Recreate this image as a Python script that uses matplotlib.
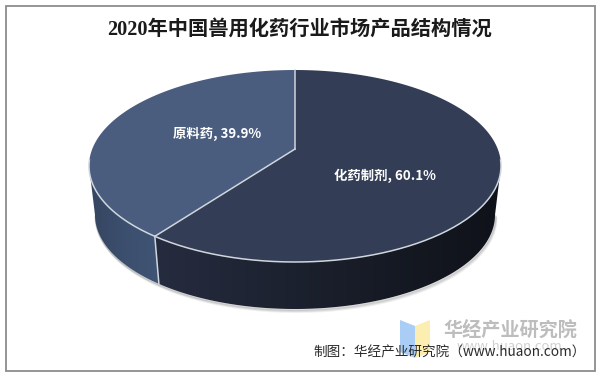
import matplotlib
matplotlib.use("Agg")
import matplotlib.pyplot as plt
from matplotlib.patches import Rectangle, Polygon
from matplotlib.colors import LinearSegmentedColormap
import numpy as np

plt.rcParams['font.family'] = ['Noto Sans CJK SC', 'DejaVu Sans']

# Data
labels = ["原料药", "化药制剂"]
shares = [39.9, 60.1]
title = "2020年中国兽用化药行业市场产品结构情况"
source = "制图：华经产业研究院（www.huaon.com）"

fig = plt.figure(figsize=(6, 3.74), dpi=100)
ax = fig.add_axes([0, 0, 1, 1])
ax.set_xlim(0, 600)
ax.set_ylim(374, 0)
ax.axis("off")

# Outer frame
ax.add_patch(Rectangle((5.5, 5.5), 589, 365, fill=False, ec="#8c8c8c", lw=1.3))

# Ellipses of the pie, in picture pixels
cx, cy, rx, ry = 295, 166, 206, 96
bx, by, brx, bry = 295, 215, 200, 94
tilt = -0.177  # moves the pie centre up the ellipse, as the 3D view does


def ellipse_pos(a):
    # a is the clockwise angle from the top of the pie; returns unit ellipse coords
    u, v = np.sin(a), -np.cos(a)
    d = 1 + tilt * v
    return u * np.sqrt(1 - tilt ** 2) / d, (v + tilt) / d


a_split = 2 * np.pi * (1 - shares[0] / 100)
u_b, v_b = ellipse_pos(a_split)
phi_b = np.arctan2(v_b, u_b)
apex = (cx, cy + ry * tilt)


def top_pt(phi):
    return cx + rx * np.cos(phi), cy + ry * np.sin(phi)


def bot_pt(phi):
    return bx + brx * np.cos(phi), by + bry * np.sin(phi)


def wall(phi0, phi1):
    ph = np.linspace(phi0, phi1, 120)
    tx, ty = top_pt(ph)
    gx, gy = bot_pt(ph[::-1])
    return np.r_[tx, gx], np.r_[ty, gy]


# Soft shadow under the pie
ph = np.linspace(0, np.pi, 150)
for off, al in [(3, 0.12), (2, 0.2), (1, 0.3)]:
    sx, sy = bot_pt(ph)
    ax.plot(sx + off * 0.5, sy + off, color="#888888", alpha=al, lw=1.5, solid_capstyle="round")

# Side walls with a horizontal gradient
cmap_left = LinearSegmentedColormap.from_list("l", ["#34455f", "#3c4f6e", "#405475"])
cmap_right = LinearSegmentedColormap.from_list("r", ["#262c3f", "#1e2332", "#161a24", "#0f1219"])
grad = np.linspace(0, 1, 256).reshape(1, -1)

for (p0, p1, cm, x0, x1) in [(np.pi, phi_b, cmap_left, 89, 160), (phi_b, 0, cmap_right, 155, 501)]:
    wx, wy = wall(p0, p1)
    poly = Polygon(np.c_[wx, wy], closed=True, fc="none", ec="none", transform=ax.transData)
    ax.add_patch(poly)
    im = ax.imshow(grad, extent=(x0, x1, 320, 150), cmap=cm, aspect="auto", zorder=2)
    im.set_clip_path(poly)
ax.set_xlim(0, 600)
ax.set_ylim(374, 0)

# Top face wedges, angles taken from the shares
colors = ["#4a5d7e", "#333e56"]
ang_left = np.linspace(a_split, 2 * np.pi, 150)
ang_right = np.linspace(0, a_split, 220)
for ang, col in [(ang_left, colors[0]), (ang_right, colors[1])]:
    u, v = ellipse_pos(ang)
    pts = np.r_[[apex], np.c_[cx + rx * u, cy + ry * v]]
    ax.add_patch(Polygon(pts, closed=True, fc=col, ec="none", zorder=3))

# Light edge lines
edge = "#d0d5de"
ax.plot(*top_pt(np.linspace(np.pi * 1.02, -0.02 * np.pi, 200)), color=edge, lw=1.1, zorder=4)
u0, v0 = ellipse_pos(0.0)
ax.plot([apex[0], cx + rx * u0], [apex[1], cy + ry * v0], color=edge, lw=1.1, zorder=4)
ax.plot([apex[0], cx + rx * u_b], [apex[1], cy + ry * v_b], color=edge, lw=1.1, zorder=4)
ax.plot([top_pt(phi_b)[0], bot_pt(phi_b)[0]], [top_pt(phi_b)[1], bot_pt(phi_b)[1]], color=edge, lw=1.1, zorder=4)

# Data labels
ax.text(217, 134, f"{labels[0]}, {shares[0]}%", color="white", fontsize=9.6, fontweight="bold",
        ha="center", va="center", zorder=5)
ax.text(385, 176, f"{labels[1]}, {shares[1]}%", color="white", fontsize=9.6, fontweight="bold",
        ha="center", va="center", zorder=5)

# Title
ax.text(300, 29.5, title, fontsize=14.6, fontweight="bold", color="#1a1a1a", ha="center", va="center",
        family=["Liberation Serif", "Noto Sans CJK SC"], zorder=5)

# Watermark logo and text
ax.add_patch(Polygon([(400, 320), (415, 326), (415, 358), (400, 352)], closed=True, fc="#a9cdf5", ec="none", zorder=1))
ax.add_patch(Polygon([(415, 326), (430, 320), (430, 352), (415, 358)], closed=True, fc="#fbeeb0", ec="none", zorder=1))
ax.text(510.5, 330, "华经产业研究院", fontsize=13.8, fontweight="bold", color="#bdbdbd", ha="center", va="center", zorder=1)
ax.text(510, 347, "www.huaon.com", fontsize=9.5, color="#d0d0d0", ha="center", va="center", zorder=1)

# Source note
ax.text(313, 352, source, fontsize=9.8, color="#2a2a2a", ha="left", va="center", zorder=5)

fig.savefig("out.png", dpi=100)
